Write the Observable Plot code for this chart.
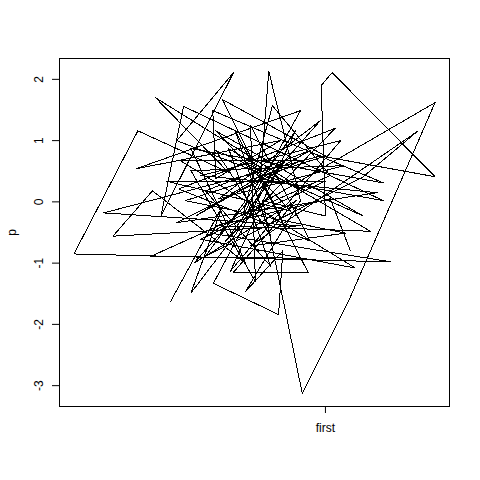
<!DOCTYPE html>
<html>
<head>
<meta charset="utf-8">
<script src="https://cdn.jsdelivr.net/npm/d3@7"></script>
<script src="https://cdn.jsdelivr.net/npm/@observablehq/plot@0.6"></script>
<style>
  html, body { margin: 0; padding: 0; background: #fff; }
  #chart svg { display: block; }
</style>
</head>
<body>
<div id="chart"></div>
<script>
// Path values (x in arbitrary units, p on the y axis)
const xs = [-1.54,-0.69,-1.21,-0.46,0.23,-0.84,0.23,0.30,-0.31,0.59,
            0.07,-0.07,1.95,-1.33,-1.70,-0.51,-1.44,0.67,-1.79,-0.59,
            -2.08,-3.13,2.08,-0.89,2.80,1.38,0.62,-0.03,1.00,0.93,
            1.11,2.80,0.92,-2.64,0.59,-2.49,-1.84,-0.31,-1.21,1.95,
            -0.85,-0.80,0.26,-2.11,0.59,-0.36,0.13,1.08,-1.87,0.59,
            -0.69,1.00,-1.30,1.33,-0.23,2.51,1.62,-0.97,0.51,-0.56,
            1.25,-1.05,1.85,-1.44,0.59,-1.38,1.49,-1.05,1.00,-1.62,
            0.43,-0.80,1.62,-0.80,0.10,-0.48,0.72,-0.52,0.52,-1.16,
            0.92,-0.75,1.30,-1.21,-0.15,-0.23,0.75,-1.41,1.16,-0.64,
            0.34,-1.13,0.75,-0.97,0.10,-0.59,1.74,-0.80,1.08,1.41];
const ps = [-1.62,-0.07,-1.49,-0.51,0.67,-1.33,-1.84,-0.80,-1.46,0.02,
            2.13,0.38,0.02,1.56,-0.23,2.11,1.00,0.18,1.70,0.48,
            1.16,-0.85,-0.98,-0.51,1.62,-1.62,-3.13,0.02,-0.23,1.90,
            2.11,0.41,0.75,-0.18,-0.39,-0.56,0.18,-1.00,0.87,0.31,
            1.49,0.38,1.00,0.54,1.49,-0.23,1.57,0.43,-0.89,-0.92,
            1.67,0.75,0.02,-0.51,-0.72,1.15,0.41,-0.89,1.16,-1.13,
            1.00,0.43,0.15,-0.34,0.67,0.67,-1.08,-0.61,0.34,0.34,
            -0.15,1.16,-0.23,0.84,-0.56,1.16,-1.16,-1.16,0.02,-1.00,
            1.33,0.05,0.59,0.51,-1.30,1.25,-0.64,0.21,1.20,-0.64,
            0.67,-0.23,0.84,0.18,-1.05,0.87,-0.48,-0.39,0.05,-0.80];
const yTicks = [-3, -2, -1, 0, 1, 2];
const xTickValues = [1];
const xTickLabels = ["first"];
const yLabel = "p";

const data = xs.map((x, i) => ({x, p: ps[i]}));

function padded(ext) {
  const r = ext[1] - ext[0];
  return [ext[0] - 0.04 * r, ext[1] + 0.04 * r];
}

const font = "'Liberation Sans', Arial, Helvetica, sans-serif";

const chart = Plot.plot({
  width: 480,
  height: 480,
  marginLeft: 59,
  marginRight: 31,
  marginTop: 58,
  marginBottom: 74,
  style: {fontFamily: font, fontSize: "12px", background: "#fff", color: "#000"},
  x: {domain: padded(d3.extent(xs)), axis: null},
  y: {domain: padded(d3.extent(ps)), axis: null},
  marks: [
    Plot.frame({stroke: "#000", strokeWidth: 1}),
    Plot.line(data, {x: "x", y: "p", stroke: "#000", strokeWidth: 1, shapeRendering: "crispEdges"}),
    Plot.axisY(yTicks, {anchor: "left", tickSize: 7, tickFormat: () => "", label: null, stroke: "#000"}),
    Plot.axisX(xTickValues, {anchor: "bottom", tickSize: 7, tickFormat: () => "", label: null, stroke: "#000"}),
    Plot.text(yTicks, {y: d => d, text: d => String(d), frameAnchor: "left", dx: -20, rotate: -90,
      textAnchor: "middle", lineAnchor: "middle", fontSize: 12, fill: "#000"}),
    Plot.text(xTickValues, {x: d => d, text: (d, i) => xTickLabels[i], frameAnchor: "bottom", dy: 22,
      textAnchor: "middle", lineAnchor: "middle", fontSize: 12, fill: "#000"}),
    Plot.text([yLabel], {text: d => d, frameAnchor: "left", dx: -47, rotate: -90,
      textAnchor: "middle", lineAnchor: "middle", fontSize: 12, fill: "#000"})
  ]
});
document.getElementById("chart").appendChild(chart);
</script>
</body>
</html>
